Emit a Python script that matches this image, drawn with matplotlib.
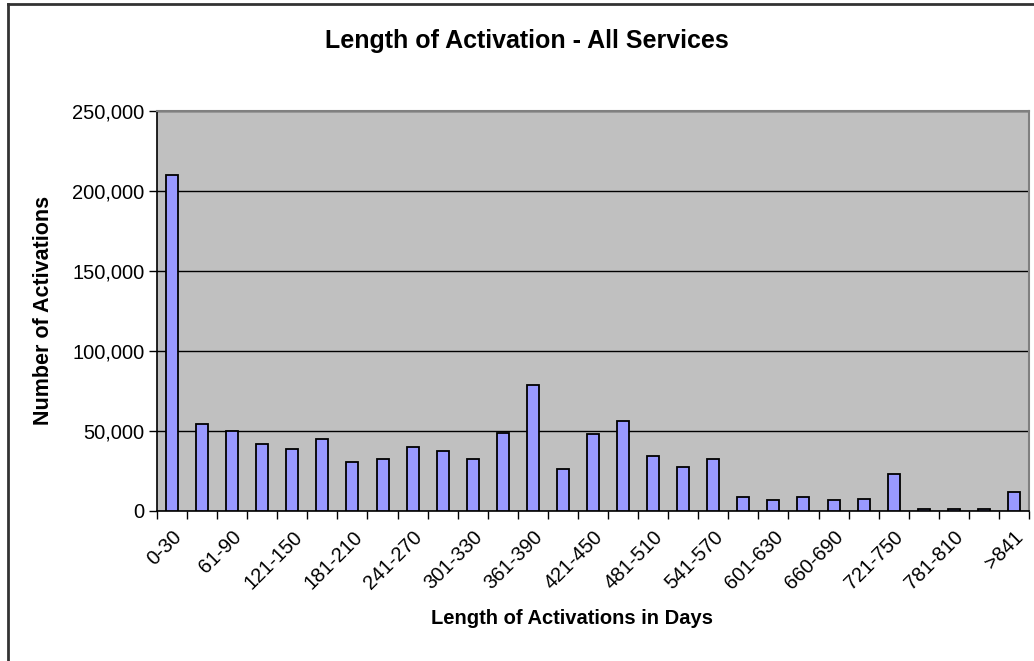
import matplotlib.pyplot as plt
import numpy as np
from matplotlib.ticker import FuncFormatter, FixedLocator
from matplotlib.lines import Line2D

plt.rcParams["font.family"] = ["Liberation Sans", "DejaVu Sans"]

# day ranges (bins of 30 days)
ranges = ["0-30", "31-60", "61-90", "91-120", "121-150", "151-180", "181-210",
          "211-240", "241-270", "271-300", "301-330", "331-360", "361-390",
          "391-420", "421-450", "451-480", "481-510", "511-540", "541-570",
          "571-600", "601-630", "631-659", "660-690", "691-720", "721-750",
          "751-780", "781-810", "811-840", ">841"]
activations = [210000, 54000, 49600, 41600, 38500, 44800, 30300, 32500, 39600,
               37500, 32500, 48800, 78500, 26200, 47800, 56100, 34400, 27200,
               32500, 8400, 6300, 8400, 6300, 7200, 22900, 1000, 1000, 1000, 11600]

fig = plt.figure(figsize=(10.34, 6.61), dpi=100)
ax = fig.add_axes([157/1034, 1 - 510.5/661, (1029-157)/1034, (510.5-111)/661])

x = np.arange(len(ranges))
ax.set_facecolor("#C0C0C0")
ax.bar(x, activations, width=0.4, color="#9999FF", edgecolor="black",
       linewidth=1.3, zorder=3)

ax.set_xlim(-0.5, len(ranges) - 0.5)
ax.set_ylim(0, 250000)
ax.set_yticks(np.arange(0, 250001, 50000))
ax.yaxis.set_major_formatter(FuncFormatter(lambda v, p: f"{int(v):,}"))
ax.grid(axis="y", color="black", linewidth=1.0, zorder=1)

ax.set_xticks(x[::2])
ax.set_xticklabels(ranges[::2], rotation=45, ha="right", rotation_mode="anchor")
ax.xaxis.set_minor_locator(FixedLocator(np.arange(-0.5, len(ranges), 1)))
ax.tick_params(axis="x", which="major", length=0, labelsize=14.5, pad=12)
ax.tick_params(axis="x", which="minor", length=6, width=1, color="black")
ax.tick_params(axis="y", length=6, width=1, labelsize=14.5, pad=3)

for side in ["top", "right"]:
    ax.spines[side].set_color("#808080")
    ax.spines[side].set_linewidth(1.5)
for side in ["left", "bottom"]:
    ax.spines[side].set_color("black")
    ax.spines[side].set_linewidth(1.2)

ax.set_xlabel("Length of Activations in Days", fontsize=14.5, fontweight="bold")
ax.set_ylabel("Number of Activations", fontsize=15.5, fontweight="bold")
ax.xaxis.set_label_coords((572 - 157) / (1029 - 157), -108 / 399.5)
ax.yaxis.set_label_coords((44 - 157) / (1029 - 157), 0.5)
ax.xaxis.label.set_va("center")
ax.yaxis.label.set_va("center")
fig.text(527/1034, 1 - 41/661, "Length of Activation - All Services",
         fontsize=18, fontweight="bold", ha="center", va="center")

# chart border (left and top visible)
fig.add_artist(Line2D([7.5/1034, 7.5/1034], [0, 1 - 3.5/661], color="#333333",
                      linewidth=2, transform=fig.transFigure))
fig.add_artist(Line2D([7.5/1034, 1], [1 - 3.5/661, 1 - 3.5/661], color="#333333",
                      linewidth=2, transform=fig.transFigure))

fig.savefig("out.png", dpi=100)
